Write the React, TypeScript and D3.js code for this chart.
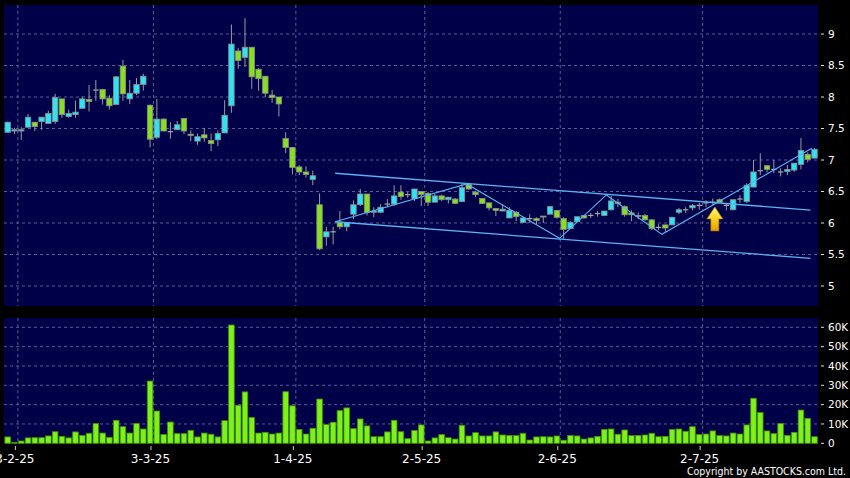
import React from "react";
import * as d3 from "d3";

// ---- data (bar index 0..119, trading days) ----
const opens = [7.44,7.46,7.46,7.52,7.60,7.61,7.58,7.61,7.97,7.69,7.72,7.82,7.96,8.11,8.12,7.98,7.88,8.49,7.97,8.06,8.20,7.87,7.36,7.65,7.45,7.48,7.66,7.41,7.30,7.40,7.31,7.32,7.43,7.86,8.73,8.63,8.79,8.44,8.33,8.03,8.00,7.34,7.20,6.89,6.81,6.69,6.29,5.78,5.86,6.01,5.94,6.14,6.29,6.46,6.17,6.17,6.30,6.30,6.49,6.45,6.39,6.50,6.47,6.33,6.43,6.37,6.38,6.34,6.61,6.49,6.39,6.32,6.23,6.19,6.08,6.17,6.01,6.07,6.07,6.11,6.14,6.20,6.07,5.91,6.02,6.12,6.12,6.15,6.12,6.21,6.33,6.26,6.16,6.12,6.12,6.05,5.93,5.97,5.97,6.17,6.21,6.24,6.28,6.32,6.33,6.37,6.28,6.21,6.38,6.34,6.57,6.83,6.91,6.85,6.81,6.82,6.84,6.93,7.09,7.03];
const highs = [7.61,7.51,7.52,7.73,7.60,7.68,7.78,8.05,7.97,7.80,7.94,8.01,8.19,8.27,8.12,8.03,8.33,8.59,8.27,8.30,8.37,7.88,7.97,7.66,7.60,7.62,7.66,7.47,7.42,7.51,7.42,7.47,7.95,9.15,8.78,9.25,8.79,8.46,8.33,8.11,8.00,7.44,7.20,6.92,6.90,6.83,6.47,5.94,5.94,6.19,6.01,6.36,6.54,6.46,6.25,6.30,6.38,6.60,6.60,6.49,6.54,6.50,6.49,6.46,6.45,6.41,6.40,6.62,6.63,6.51,6.39,6.32,6.23,6.30,6.25,6.19,6.09,6.14,6.09,6.11,6.27,6.21,6.09,6.03,6.10,6.13,6.16,6.19,6.19,6.43,6.38,6.28,6.20,6.17,6.14,6.06,5.98,5.97,6.10,6.24,6.25,6.30,6.32,6.36,6.39,6.39,6.32,6.37,6.44,6.63,7.00,7.11,6.91,7.00,6.87,6.92,6.95,7.35,7.12,7.19];
const lows = [7.43,7.41,7.32,7.52,7.46,7.48,7.58,7.57,7.67,7.67,7.67,7.82,7.77,7.94,7.88,7.80,7.88,7.94,7.89,8.03,8.10,7.20,7.33,7.46,7.34,7.48,7.41,7.30,7.24,7.29,7.14,7.22,7.43,7.75,8.45,8.48,8.13,8.10,8.00,7.91,7.69,7.11,6.77,6.76,6.72,6.60,5.57,5.64,5.66,5.90,5.87,6.06,6.27,6.12,6.09,6.17,6.25,6.27,6.37,6.40,6.35,6.27,6.27,6.33,6.35,6.31,6.30,6.34,6.53,6.41,6.30,6.20,6.11,6.19,6.08,6.03,6.00,6.00,5.98,6.00,6.14,6.07,5.74,5.91,6.02,6.07,6.08,6.10,6.11,6.20,6.25,6.10,6.03,6.06,6.04,5.89,5.89,5.85,5.97,6.14,6.16,6.20,6.21,6.25,6.28,6.32,6.20,6.20,6.32,6.32,6.57,6.76,6.80,6.79,6.74,6.76,6.81,6.85,6.96,7.03];
const closes = [7.60,7.48,7.48,7.68,7.53,7.68,7.74,7.99,7.72,7.74,7.76,7.97,7.93,8.11,7.97,7.86,8.32,8.05,8.06,8.20,8.33,7.33,7.65,7.46,7.45,7.56,7.46,7.39,7.37,7.35,7.26,7.42,7.71,8.84,8.58,8.79,8.32,8.29,8.06,7.99,7.89,7.20,6.88,6.81,6.77,6.75,5.59,5.86,5.86,5.94,6.01,6.29,6.46,6.17,6.19,6.25,6.30,6.43,6.42,6.45,6.54,6.45,6.33,6.43,6.37,6.41,6.31,6.56,6.54,6.45,6.31,6.24,6.20,6.22,6.20,6.10,6.08,6.07,6.04,6.10,6.26,6.09,5.90,6.01,6.10,6.08,6.12,6.15,6.19,6.35,6.31,6.13,6.13,6.11,6.05,5.91,5.93,5.92,6.09,6.21,6.21,6.28,6.28,6.32,6.33,6.33,6.28,6.37,6.38,6.60,6.81,6.83,6.85,6.85,6.81,6.85,6.95,7.15,7.01,7.17];
const volumesK = [3.3,0.5,1.2,2.8,2.9,2.9,3.8,6.0,3.6,2.8,5.9,4.1,5.2,10.2,5.3,3.1,11.9,8.6,5.3,10.3,7.4,32.2,16.7,4.5,11.0,5.0,5.0,6.7,3.3,5.3,4.7,3.3,11.7,61.2,19.7,26.6,13.4,5.3,5.7,4.8,5.3,26.7,19.4,7.2,4.8,7.8,22.9,9.7,10.9,16.9,18.3,7.6,12.6,9.0,3.4,3.4,5.9,11.9,6.0,2.4,6.6,9.5,1.2,2.8,4.5,2.9,2.2,9.3,3.8,5.5,3.8,3.8,5.9,4.3,4.0,4.0,5.2,1.7,3.3,3.4,3.3,3.8,1.6,4.1,3.8,2.2,2.8,3.6,7.2,7.4,4.7,6.9,4.0,4.1,4.3,5.2,3.4,3.6,7.2,7.4,6.2,8.6,4.5,4.8,6.4,4.0,3.8,5.3,4.8,9.5,23.3,15.9,6.4,5.0,10.3,4.1,5.7,17.2,12.9,3.4];

const dateLabels = ["3-2-25", "3-3-25", "1-4-25", "2-5-25", "2-6-25", "2-7-25"];
const dateIndex = [2, 22, 43, 62, 82, 103];
const priceTicks = [5, 5.5, 6, 6.5, 7, 7.5, 8, 8.5, 9];
const volumeTicks = [0, 10, 20, 30, 40, 50, 60];
const volumeTickLabels = ["0", "10K", "20K", "30K", "40K", "50K", "60K"];

// trend annotations in (bar index, price)
const channelUpper: [number, number][] = [[48.3, 6.79], [118.4, 6.205]];
const channelLower: [number, number][] = [[48.3, 6.02], [118.4, 5.44]];
const zigzag: [number, number][] = [[48.3, 6.02], [67.7, 6.62], [81.4, 5.757], [88.3, 6.445], [96.5, 5.82], [118.6, 7.186]];
const arrowAt: [number, number] = [104.3, 6.255];

export default function App() {
  const W = 850, H = 478;
  const n = closes.length;
  const idx = d3.range(n);
  const pL = 4, pR = 818, pTop = 5, pBot = 306, vTop = 318, vBot = 443.3;
  const x = d3.scaleBand<number>().domain(idx).range([4.3, 817.9]).padding(0);
  const step = x.step();
  const xc = d3.scaleLinear().domain([-0.5, n - 0.5]).range([4.3, 817.9]);
  const yP = d3.scaleLinear().domain([5, 9]).range([286, 34]);
  const yV = d3.scaleLinear().domain([0, 60]).range([vBot, 327.3]);
  const bw = step * 0.8;
  const grid = "#5a5a94";
  const line = d3.line<[number, number]>().x(d => xc(d[0])).y(d => yP(d[1]));
  const ax = xc(arrowAt[0]), ay = yP(arrowAt[1]);
  const arrowPath = `M${ax},${ay} L${ax + 8},${ay + 12} L${ax + 4},${ay + 12} L${ax + 4},${ay + 24} L${ax - 4},${ay + 24} L${ax - 4},${ay + 12} L${ax - 8},${ay + 12} Z`;
  const font = "'DejaVu Sans', Verdana, sans-serif";

  return (
    <svg width={W} height={H} style={{ position: "fixed", left: 0, top: 0, display: "block" }}>
      <defs>
        <clipPath id="pc"><rect x={pL} y={pTop} width={pR - pL} height={pBot - pTop} /></clipPath>
        <linearGradient id="ag" x1="0" y1="0" x2="0" y2="1">
          <stop offset="0" stopColor="#fff58a" />
          <stop offset="0.5" stopColor="#ffd21c" />
          <stop offset="1" stopColor="#e39a00" />
        </linearGradient>
      </defs>
      <rect x={0} y={0} width={W} height={H} fill="#000" />
      <rect x={pL} y={pTop} width={pR - pL} height={pBot - pTop} fill="#000048" />
      <rect x={pL} y={vTop} width={pR - pL} height={vBot - vTop} fill="#000048" />

      {/* grids */}
      {priceTicks.map(t => (
        <line key={"pg" + t} x1={pL} x2={pR} y1={yP(t)} y2={yP(t)} stroke={grid} strokeDasharray="3,3" />
      ))}
      {volumeTicks.slice(1).map(t => (
        <line key={"vg" + t} x1={pL} x2={pR} y1={yV(t)} y2={yV(t)} stroke={grid} strokeDasharray="3,3" />
      ))}
      {dateIndex.map(i => (
        <g key={"dg" + i}>
          <line x1={x(i)!} x2={x(i)!} y1={pTop} y2={pBot} stroke={grid} strokeDasharray="3,3" />
          <line x1={x(i)!} x2={x(i)!} y1={vTop} y2={vBot} stroke={grid} strokeDasharray="3,3" />
          <line x1={x(i)! - 2.5} x2={x(i)! - 2.5} y1={446} y2={450} stroke="#ccc" />
        </g>
      ))}

      {/* candles */}
      <g clipPath="url(#pc)">
        {idx.map(i => {
          const o = opens[i], c = closes[i], h = highs[i], l = lows[i];
          const cx = x(i)! + step / 2;
          const up = c > o, down = c < o;
          const top = yP(Math.max(o, c)), bot = yP(Math.min(o, c));
          return (
            <g key={"c" + i}>
              <line x1={cx} x2={cx} y1={yP(h)} y2={yP(l)} stroke="#9a9a9a" strokeWidth={1} />
              {up || down ? (
                <rect x={cx - bw / 2} y={top} width={bw} height={Math.max(1, bot - top)}
                  fill={up ? "#2fe3f2" : "#86e020"} stroke="#8c8c8c" strokeWidth={0.8} />
              ) : (
                <line x1={cx - bw / 2} x2={cx + bw / 2} y1={top} y2={top} stroke="#a8a8a8" strokeWidth={1.2} />
              )}
            </g>
          );
        })}
        <path d={line(channelUpper)!} fill="none" stroke="#5ab4f0" strokeWidth={1.3} />
        <path d={line(channelLower)!} fill="none" stroke="#5ab4f0" strokeWidth={1.3} />
        <path d={line(zigzag)!} fill="none" stroke="#5ab4f0" strokeWidth={1.1} />
        <path d={arrowPath} fill="url(#ag)" stroke="#b07800" strokeWidth={0.6} />
      </g>

      {/* volume */}
      {idx.map(i => {
        const bx = x(i)! + step / 2 - 2.8;
        return (
          <rect key={"v" + i} x={bx} y={yV(volumesK[i])} width={5.6} height={vBot - yV(volumesK[i])}
            fill="#7ef01c" stroke="#3f8f05" strokeWidth={0.8} />
        );
      })}

      {/* right axes */}
      {priceTicks.map(t => (
        <g key={"pl" + t}>
          <line x1={821} x2={824} y1={yP(t)} y2={yP(t)} stroke="#ddd" />
          <text x={828} y={yP(t)} dy="0.36em" fill="#fff" fontSize={10.5} fontFamily={font}>{String(t)}</text>
        </g>
      ))}
      {volumeTicks.map((t, k) => (
        <g key={"vl" + t}>
          <line x1={821} x2={824} y1={yV(t)} y2={yV(t)} stroke="#ddd" />
          <text x={828} y={yV(t)} dy="0.36em" fill="#fff" fontSize={10.5} fontFamily={font}>{volumeTickLabels[k]}</text>
        </g>
      ))}

      {/* date labels */}
      {dateIndex.map((i, k) => (
        <text key={"dl" + i} x={x(i)! - 3} y={462.5} textAnchor="middle" fill="#fff" fontSize={12} fontFamily={font}>{dateLabels[k]}</text>
      ))}

      <text x={846} y={475} textAnchor="end" fill="#fff" fontSize={11} fontFamily={font}
        textLength={159} lengthAdjust="spacingAndGlyphs">Copyright by AASTOCKS.com Ltd.</text>
    </svg>
  );
}
